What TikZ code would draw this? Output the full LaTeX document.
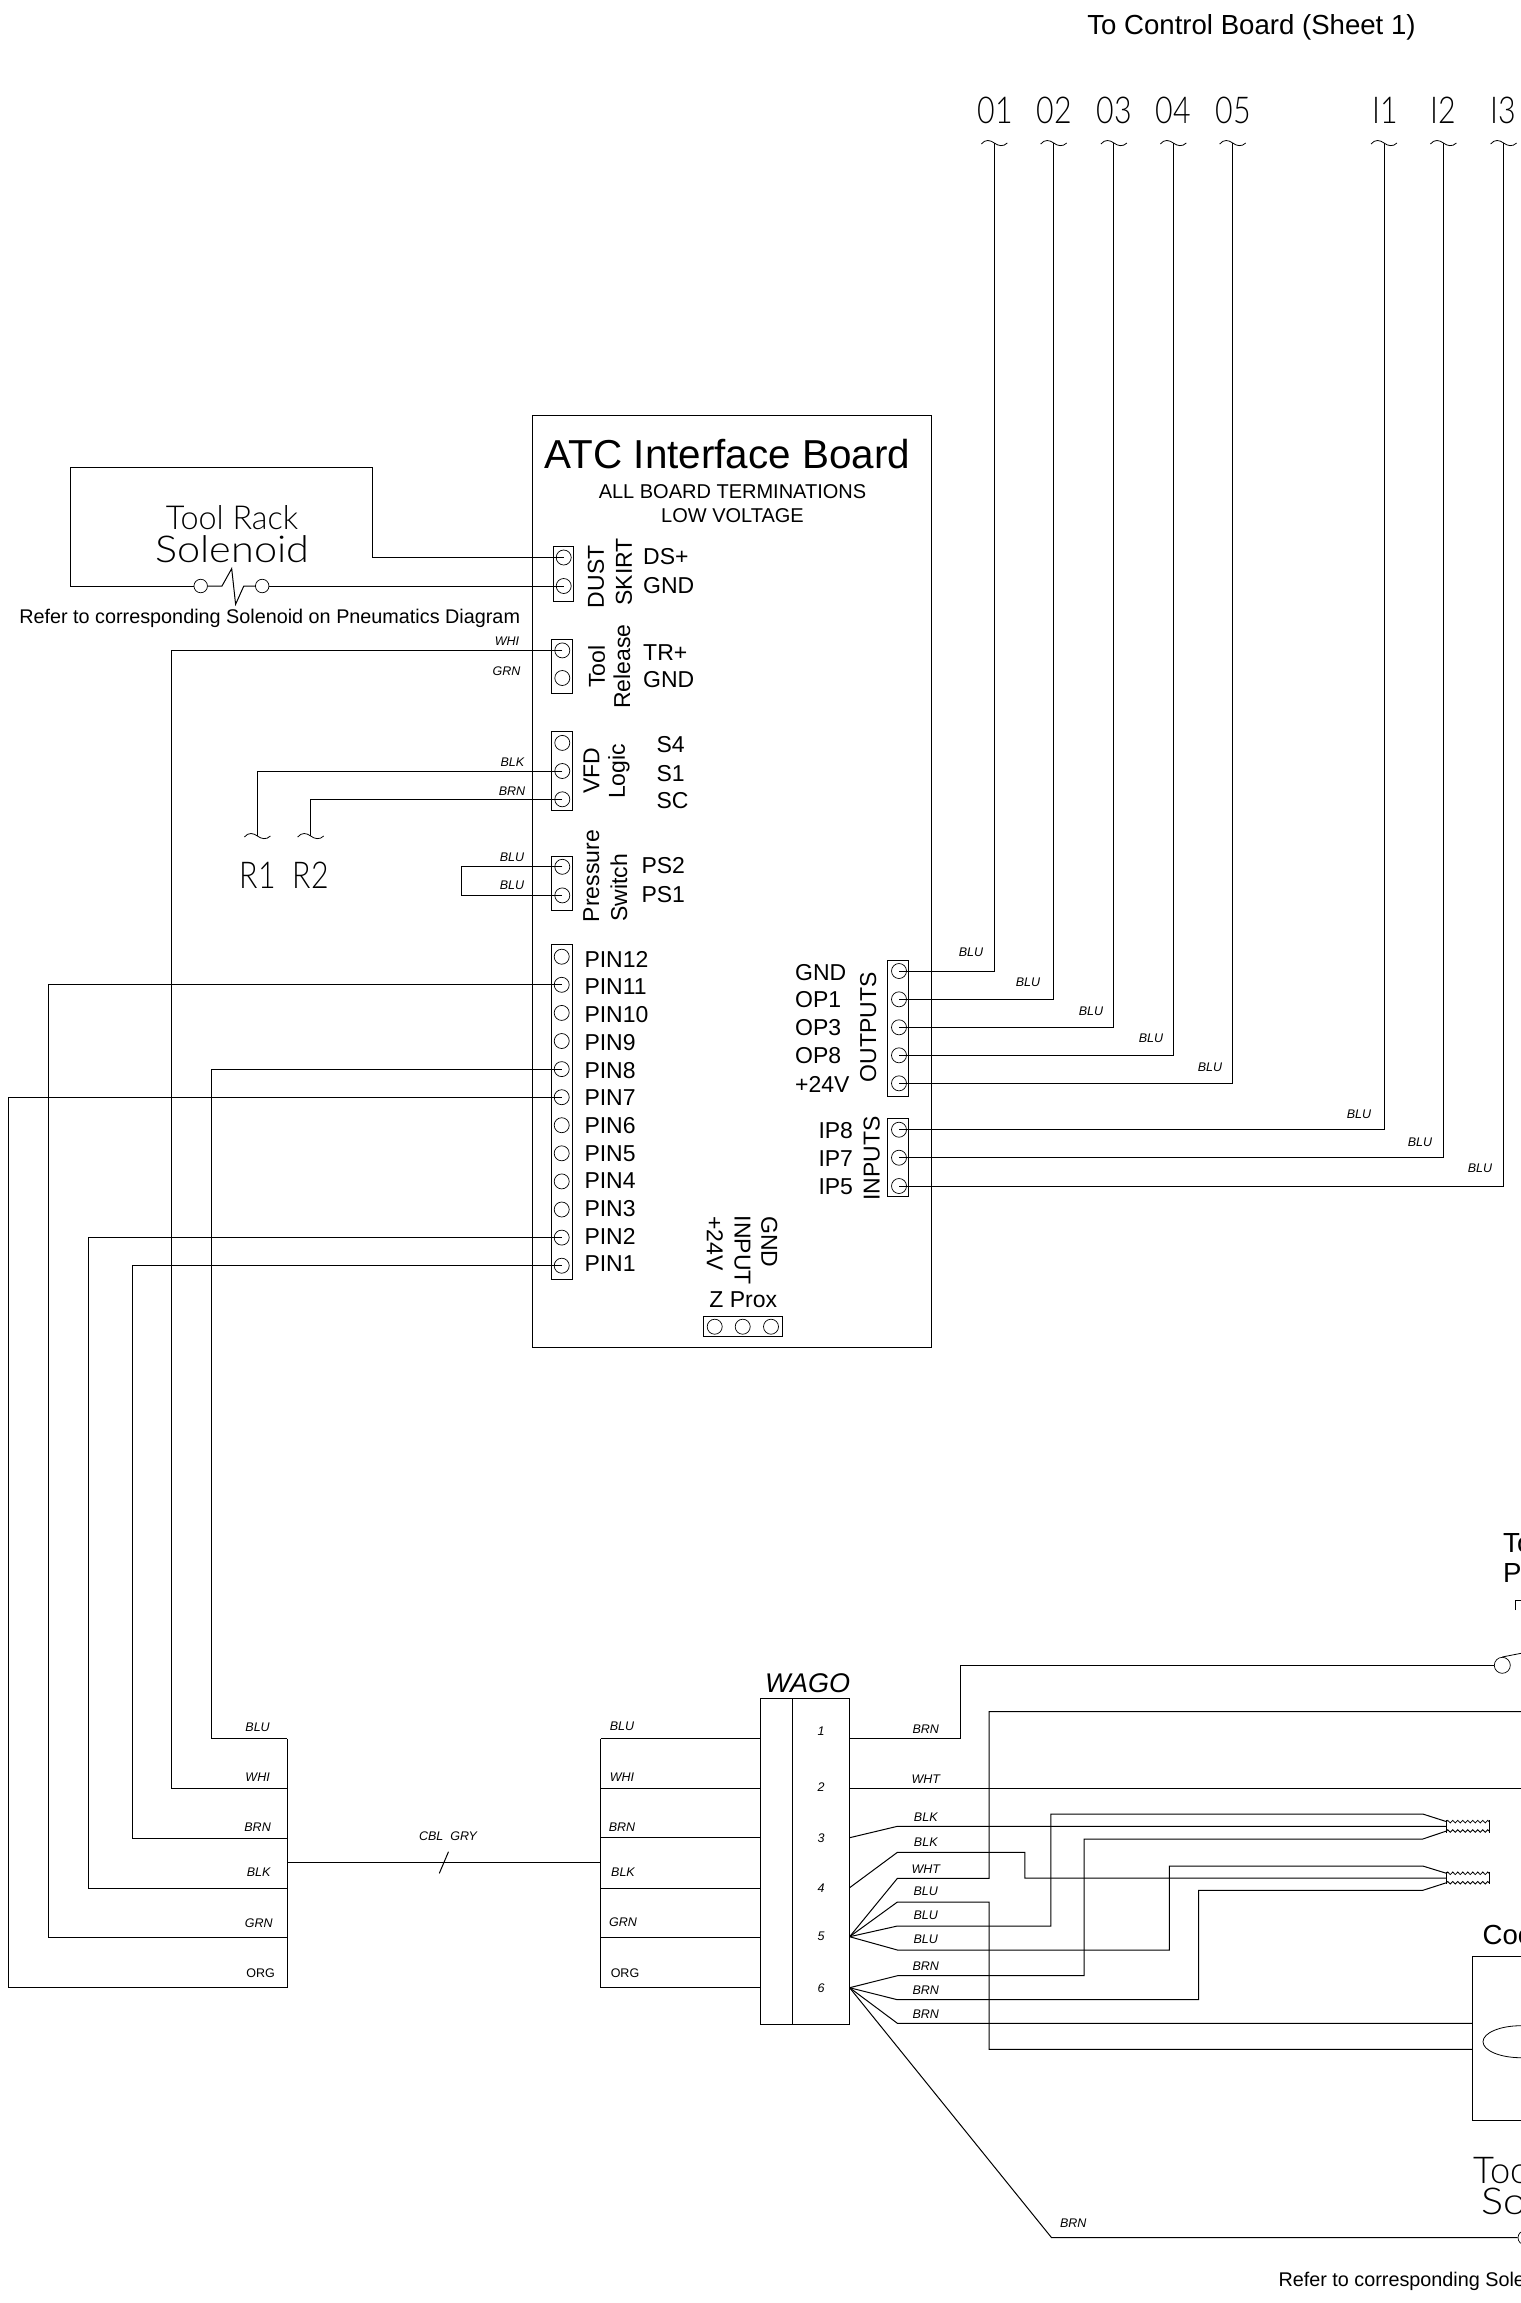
\documentclass[tikz,border=0pt]{standalone}
\usepackage{fontspec}
\usepackage{tikz}
\usetikzlibrary{decorations.pathmorphing,shapes.geometric}
\setmainfont{Liberation Sans}
\newfontfamily\cadfont[FakeStretch=0.82]{Lato Light}
\newfontfamily\cadmid[FakeStretch=0.98]{Lato Light}
\newfontfamily\cadwide[FakeStretch=1.12]{Lato Light}
\newcommand{\tsize}[1]{\fontsize{#1}{#1}\selectfont}
\tikzset{
  wire/.style={line width=1pt},
  term/.style={draw, circle, line width=0.7pt, minimum size=15pt, inner sep=0pt},
  strip/.style={line width=1pt},
  pinlbl/.style={inner sep=0pt, anchor=west, font=\tsize{23}},
  sidelbl/.style={inner sep=0pt, rotate=90, font=\tsize{23}},
  downlbl/.style={inner sep=0pt, rotate=-90, font=\tsize{23}},
  wirelbl/.style={inner sep=0pt, font=\tsize{12.5}\itshape},
  plainlbl/.style={inner sep=0pt, font=\tsize{12.5}},
  cadlbl/.style={inner sep=0pt, font=\cadfont\tsize{37}},
  crimp/.style={inner sep=0pt, minimum width=42.6pt, minimum height=9pt},
  wavy/.style={line width=0.8pt, decorate, decoration={zigzag, segment length=5pt, amplitude=1.3pt}},
  pics/wireend/.style={code={\draw[line width=0.8pt] (-13,1) .. controls (-9,-4) and (-4,-3) .. (0,0) .. controls (4,3) and (9,4) .. (13,0);}}
}
\begin{document}
\begin{tikzpicture}[x=1pt, y=-1pt]
\useasboundingbox (0,0) rectangle (1521,2303);
\clip (0,0) rectangle (1521,2303);
% board
\draw[wire] (532.5,415) rectangle (931.5,1347);
\node[inner sep=0pt, font=\tsize{40.4}] (title) at (727.5,454) {ATC Interface Board};
\node[inner sep=0pt, font=\tsize{20}] (sub1) at (732.5,492) {ALL BOARD TERMINATIONS};
\node[inner sep=0pt, font=\tsize{20}] (sub2) at (732.5,516) {LOW VOLTAGE};
\node[inner sep=0pt, font=\tsize{27.6}] (toboard) at (1251.5,27) {To Control Board (Sheet 1)};
% terminal strips
\draw[strip] (553.6,546.8) rectangle (573.4,601);
\draw[strip] (551.6,639) rectangle (572.5,693);
\draw[strip] (551.6,731.8) rectangle (572.5,810.7);
\draw[strip] (551.6,856) rectangle (572.5,910);
\draw[strip] (551.7,944) rectangle (572.3,1279);
\draw[strip] (887.7,960) rectangle (908.3,1096.3);
\draw[strip] (887.7,1118.7) rectangle (908.3,1196.7);
\draw[strip] (703.3,1316) rectangle (782.3,1336.7);
\node[term] (ds) at (563.7,557.5) {};
\node[term] (dg) at (563.7,586) {};
\node[term] (tr) at (562.3,650.4) {};
\node[term] (tg) at (562.3,678) {};
\node[term] (s4) at (562.3,742.9) {};
\node[term] (s1) at (562.3,771) {};
\node[term] (sc) at (562.3,799.3) {};
\node[term] (ps2) at (562.3,866.8) {};
\node[term] (ps1) at (562.3,895.4) {};
\node[term] (pin12) at (561.7,956.7) {};
\node[term] (pin11) at (561.7,984.8) {};
\node[term] (pin10) at (561.7,1012.9) {};
\node[term] (pin9) at (561.7,1041) {};
\node[term] (pin8) at (561.7,1069.1) {};
\node[term] (pin7) at (561.7,1097.2) {};
\node[term] (pin6) at (561.7,1125.2) {};
\node[term] (pin5) at (561.7,1153.3) {};
\node[term] (pin4) at (561.7,1181.4) {};
\node[term] (pin3) at (561.7,1209.5) {};
\node[term] (pin2) at (561.7,1237.6) {};
\node[term] (pin1) at (561.7,1265.7) {};
\node[term] (opg) at (899,971) {};
\node[term] (op1) at (899,999.3) {};
\node[term] (op3) at (899,1027.3) {};
\node[term] (op8) at (899,1055.3) {};
\node[term] (op24) at (899,1083.3) {};
\node[term] (ip8) at (899,1129.7) {};
\node[term] (ip7) at (899,1157.7) {};
\node[term] (ip5) at (899,1186) {};
\node[term] (za) at (714.7,1326.7) {};
\node[term] (zb) at (742.7,1326.7) {};
\node[term] (zc) at (771,1326.7) {};
% board texts
\node[sidelbl] (dustlbl) at (596,576.8) {DUST};
\node[sidelbl] (skirtlbl) at (624,572) {SKIRT};
\node[sidelbl] (toollbl) at (596.7,666.5) {Tool};
\node[sidelbl] (rellbl) at (622,666.5) {Release};
\node[sidelbl] (vfdlbl) at (591.4,770.7) {VFD};
\node[sidelbl] (logiclbl) at (619,771.4) {Logic};
\node[sidelbl] (preslbl) at (591.4,876) {Pressure};
\node[sidelbl] (swlbl) at (619,887.9) {Switch};
\node[sidelbl] (outlbl) at (868.3,1027.2) {OUTPUTS};
\node[sidelbl] (inlbl) at (871.7,1158.7) {INPUTS};
\node[downlbl] (zalbl) at (715,1243.3) {+24V};
\node[downlbl] (zblbl) at (742.3,1250.3) {INPUT};
\node[downlbl] (zclbl) at (769.3,1242) {GND};
\node[inner sep=0pt, font=\tsize{23}] (zprox) at (743.3,1300) {Z Prox};
\node[pinlbl] (dslbl) at (643,557) {DS+};
\node[pinlbl] (dglbl) at (643,585.4) {GND};
\node[pinlbl] (trlbl) at (643,652.5) {TR+};
\node[pinlbl] (tglbl) at (643,679.6) {GND};
\node[pinlbl] (s4lbl) at (656.3,745) {S4};
\node[pinlbl] (s1lbl) at (656.3,773.2) {S1};
\node[pinlbl] (sclbl) at (656.3,800.7) {SC};
\node[pinlbl] (ps2lbl) at (641.3,865.7) {PS2};
\node[pinlbl] (ps1lbl) at (641.3,894.3) {PS1};
\node[pinlbl] (p12lbl) at (584.3,959) {PIN12};
\node[pinlbl] (p11lbl) at (584.3,987) {PIN11};
\node[pinlbl] (p10lbl) at (584.3,1014.5) {PIN10};
\node[pinlbl] (p9lbl) at (584.3,1042.5) {PIN9};
\node[pinlbl] (p8lbl) at (584.3,1070.5) {PIN8};
\node[pinlbl] (p7lbl) at (584.3,1097.5) {PIN7};
\node[pinlbl] (p6lbl) at (584.3,1125.5) {PIN6};
\node[pinlbl] (p5lbl) at (584.3,1153.5) {PIN5};
\node[pinlbl] (p4lbl) at (584.3,1180.5) {PIN4};
\node[pinlbl] (p3lbl) at (584.3,1208.5) {PIN3};
\node[pinlbl] (p2lbl) at (584.3,1236.5) {PIN2};
\node[pinlbl] (p1lbl) at (584.3,1263.5) {PIN1};
\node[pinlbl] (opglbl) at (795,972.7) {GND};
\node[pinlbl] (op1lbl) at (795,1000) {OP1};
\node[pinlbl] (op3lbl) at (795,1028) {OP3};
\node[pinlbl] (op8lbl) at (795,1056) {OP8};
\node[pinlbl] (op24lbl) at (795,1084) {+24V};
\node[pinlbl] (ip8lbl) at (818.3,1131) {IP8};
\node[pinlbl] (ip7lbl) at (818.3,1159) {IP7};
\node[pinlbl] (ip5lbl) at (818.3,1186.7) {IP5};
% control board ends
\coordinate (o1) at (994.3,143);
\coordinate (o2) at (1053.7,143);
\coordinate (o3) at (1113.9,143);
\coordinate (o4) at (1173.3,143);
\coordinate (o5) at (1232.7,143);
\coordinate (i1) at (1384,143);
\coordinate (i2) at (1443.4,143);
\coordinate (i3) at (1503.6,143);
\pic at (o1) {wireend};
\pic at (o2) {wireend};
\pic at (o3) {wireend};
\pic at (o4) {wireend};
\pic at (o5) {wireend};
\pic at (i1) {wireend};
\pic at (i2) {wireend};
\pic at (i3) {wireend};
\node[cadlbl] (o1lbl) at (995,110.5) {01};
\node[cadlbl] (o2lbl) at (1054,110.5) {02};
\node[cadlbl] (o3lbl) at (1114,110.5) {03};
\node[cadlbl] (o4lbl) at (1173,110.5) {04};
\node[cadlbl] (o5lbl) at (1233,110.5) {05};
\node[cadlbl] (i1lbl) at (1385,110.5) {I1};
\node[cadlbl] (i2lbl) at (1443,110.5) {I2};
\node[cadlbl] (i3lbl) at (1503.5,110.5) {I3};
\draw[wire] (opg.center) -| (o1);
\draw[wire] (op1.center) -| (o2);
\draw[wire] (op3.center) -| (o3);
\draw[wire] (op8.center) -| (o4);
\draw[wire] (op24.center) -| (o5);
\draw[wire] (ip8.center) -| (i1);
\draw[wire] (ip7.center) -| (i2);
\draw[wire] (ip5.center) -| (i3);
\node[wirelbl] (w1) at (971,952.7) {BLU};
\node[wirelbl] (w2) at (1028,982) {BLU};
\node[wirelbl] (w3) at (1091,1011.5) {BLU};
\node[wirelbl] (w4) at (1151,1038) {BLU};
\node[wirelbl] (w5) at (1210,1067) {BLU};
\node[wirelbl] (w6) at (1359,1114) {BLU};
\node[wirelbl] (w7) at (1420,1142) {BLU};
\node[wirelbl] (w8) at (1480,1168.5) {BLU};
% tool rack solenoid
\node[term, minimum size=13.5pt] (swa) at (200.7,586) {};
\node[term, minimum size=13.5pt] (swb) at (262.2,586) {};
\node[cadlbl, font=\cadmid\tsize{33}] (racklbl) at (232,518) {Tool Rack};
\node[cadlbl, font=\cadwide\tsize{37}] (sollbl) at (232.5,549) {Solenoid};
\node[inner sep=0pt, font=\tsize{19.8}] (referlbl) at (269.7,618.6) {Refer to corresponding Solenoid on Pneumatics Diagram};
\draw[wire] (ds.center) -- (372.8,557.5) |- (70.8,467.9) |- (swa);
\draw[wire] (swa) -- (222,586) -- (231.7,568.6) -- (235.6,604.3) -- (243.8,586) -- (swb);
\draw[wire] (swb) -- (dg.center);
\node[wirelbl] (whilbl) at (507,641) {WHI};
\node[wirelbl] (grnlbl) at (506.5,671) {GRN};
\node[wirelbl] (blklbl) at (512.4,761.8) {BLK};
\node[wirelbl] (brnlbl) at (512,790.7) {BRN};
\node[wirelbl] (blulba) at (512,857.5) {BLU};
\node[wirelbl] (blulbb) at (512,885.7) {BLU};
% R1 R2 and the jumper
\coordinate (r1) at (257.4,836);
\coordinate (r2) at (310.7,836);
\pic at (r1) {wireend};
\pic at (r2) {wireend};
\node[cadlbl] (r1lbl) at (258,875.5) {R1};
\node[cadlbl] (r2lbl) at (311,875.5) {R2};
\draw[wire] (s1.center) -| (r1);
\draw[wire] (sc.center) -| (r2);
\draw[wire] (ps2.center) -- (461,866.8) |- (ps1.center);
% cable block
\coordinate (ca) at (287.2,1738.7);
\coordinate (cb) at (287.2,1788.3);
\coordinate (cc) at (287.2,1838.3);
\coordinate (cd) at (287.2,1888.3);
\coordinate (ce) at (287.2,1937.7);
\coordinate (cf) at (287.2,1987.7);
\coordinate (cm) at (287.2,1862.3);
\coordinate (dm) at (600.5,1862.3);
\draw[wire] (ca) -- (cf);
\draw[wire] (tr.center) -| (171.4,1788.3) -- (cb);
\draw[wire] (pin8.center) -| (211.7,1738.7) -- (ca);
\draw[wire] (pin1.center) -| (132,1838.3) -- (cc);
\draw[wire] (pin2.center) -| (88.8,1888.3) -- (cd);
\draw[wire] (pin11.center) -| (48.5,1937.7) -- (ce);
\draw[wire] (pin7.center) -| (8.2,1987.7) -- (cf);
\draw[wire] (cm) -- (dm);
\draw[wire] (448.5,1851.7) -- (439.3,1873.3);
\node[wirelbl] (cblgry) at (448,1835.7) {CBL\ \ GRY};
\node[wirelbl] (ca1) at (257.6,1727.7) {BLU};
\node[wirelbl] (ca2) at (257.6,1777.3) {WHI};
\node[wirelbl] (ca3) at (257.6,1826.7) {BRN};
\node[wirelbl] (ca4) at (258.7,1872.3) {BLK};
\node[wirelbl] (ca5) at (258.7,1922.7) {GRN};
\node[plainlbl] (ca6) at (260.7,1972.7) {ORG};
\node[wirelbl] (cb1) at (622,1726.7) {BLU};
\node[wirelbl] (cb2) at (622,1776.7) {WHI};
\node[wirelbl] (cb3) at (622,1826.7) {BRN};
\node[wirelbl] (cb4) at (623,1872.3) {BLK};
\node[wirelbl] (cb5) at (623,1921.7) {GRN};
\node[plainlbl] (cb6) at (625,1972.7) {ORG};
% wago block
\draw[wire] (760,1698.7) rectangle (849.6,2024.7);
\draw[wire] (792.8,1698.7) -- (792.8,2024.7);
\node[inner sep=0pt, font=\tsize{27}\itshape] (wago) at (807.7,1683) {WAGO};
\coordinate (wl1) at (760,1738.5);
\coordinate (wl2) at (760,1788.3);
\coordinate (wl3) at (760,1837.7);
\coordinate (wl4) at (760,1888.3);
\coordinate (wl5) at (760,1937.7);
\coordinate (wl6) at (760,1987.7);
\coordinate (wr1) at (849.6,1738.5);
\coordinate (wr2) at (849.6,1788.3);
\coordinate (wr3) at (849.6,1837.7);
\coordinate (wr4) at (849.6,1887.7);
\coordinate (wr5) at (849.6,1936.7);
\coordinate (wr6) at (849.6,1987.7);
\draw[wire] (600.5,1738.5) -- (600.5,1987.7);
\draw[wire] (600.5,1738.5) -- (wl1);
\draw[wire] (600.5,1788.3) -- (wl2);
\draw[wire] (600.5,1837.7) -- (wl3);
\draw[wire] (600.5,1888.3) -- (wl4);
\draw[wire] (600.5,1937.7) -- (wl5);
\draw[wire] (600.5,1987.7) -- (wl6);
\node[wirelbl] (wn1) at (821.2,1730.7) {1};
\node[wirelbl] (wn2) at (821.2,1786.7) {2};
\node[wirelbl] (wn3) at (821.2,1837.7) {3};
\node[wirelbl] (wn4) at (821.2,1887.7) {4};
\node[wirelbl] (wn5) at (821.2,1936.7) {5};
\node[wirelbl] (wn6) at (821.2,1987.7) {6};
\node[wirelbl] (wb1) at (925.8,1728.7) {BRN};
\node[wirelbl] (wb2) at (925.8,1778.7) {WHT};
\node[wirelbl] (wb3) at (925.8,1816.7) {BLK};
\node[wirelbl] (wb4) at (925.8,1841.7) {BLK};
\node[wirelbl] (wb5) at (925.8,1868.7) {WHT};
\node[wirelbl] (wb6) at (925.8,1891.7) {BLU};
\node[wirelbl] (wb7) at (925.8,1915.7) {BLU};
\node[wirelbl] (wb8) at (925.8,1939.3) {BLU};
\node[wirelbl] (wb9) at (925.8,1965.7) {BRN};
\node[wirelbl] (wb10) at (925.8,1989.7) {BRN};
\node[wirelbl] (wb11) at (925.8,2013.7) {BRN};
\node[wirelbl] (wb12) at (1073.3,2222.7) {BRN};
% crimp connectors
\node[crimp] (crimpa) at (1468,1826.3) {};
\node[crimp] (crimpb) at (1468,1878) {};
\draw[wavy] (crimpa.north west) -- (crimpa.north east);
\draw[wavy] (crimpa.south west) -- (crimpa.south east);
\draw[wavy] (crimpb.north west) -- (crimpb.north east);
\draw[wavy] (crimpb.south west) -- (crimpb.south east);
\draw[wire] (1446.7,1820) -- (1446.7,1832.7);
\draw[wire] (1489.3,1820) -- (1489.3,1832.7);
\draw[wire] (1446.7,1871.7) -- (1446.7,1884.3);
\draw[wire] (1489.3,1871.7) -- (1489.3,1884.3);
% coolant and tool solenoid parts at the sheet edge
\draw[wire] (1472,1956.3) rectangle (1560,2120);
\node[draw, ellipse, line width=0.8pt, minimum width=76pt, minimum height=32pt, inner sep=0pt] (coolmotor) at (1521,2041.7) {};
\coordinate (cooltop) at (1472,2023.3);
\coordinate (coolbot) at (1472,2049.3);
\node[inner sep=0pt, anchor=west, font=\tsize{27.6}] (coollbl) at (1482.5,1935) {Coo};
\node[term, minimum size=14pt] (solc) at (1525,2237.7) {};
\node[cadlbl, anchor=west, font=\cadmid\tsize{37}] (tool2lbl) at (1473.3,2170) {Tool};
\node[cadlbl, anchor=west, font=\cadwide\tsize{37}] (so2lbl) at (1481.7,2201.5) {So};
\node[inner sep=0pt, anchor=west, font=\tsize{19.8}] (refer2lbl) at (1278.3,2281.7) {Refer to corresponding Sole};
\node[inner sep=0pt, anchor=west, font=\tsize{27.6}] (proxa) at (1503,1543) {To};
\node[inner sep=0pt, anchor=west, font=\tsize{27.6}] (proxb) at (1503,1572.7) {Pr};
\draw[line width=0.8pt] (1515.7,1610) -- (1515.7,1600.7) -- (1521,1600.7);
\node[term, minimum size=16pt] (swc) at (1502.3,1665.3) {};
\draw[line width=0.8pt] (swc.north) -- (1521,1653.3);
% wago outgoing wires
\draw[wire] (wr1) -- (960,1738.5) |- (swc);
\draw[wire] (wr2) -- (1521,1788.3);
\draw[wire] (wr3) -- (897.4,1826.3) -- (crimpa.west);
\draw[wire] (wr4) -- (897.4,1852.3) -- (1024.9,1852.3) |- (crimpb.west);
\draw[wire] (wr5) -- (897.4,1878.3) -- (989,1878.3) |- (1521,1711.7);
\draw[wire] (wr5) -- (897.4,1902) -- (989,1902) |- (coolbot);
\draw[wire] (wr5) -- (897.4,1926) -- (1050.8,1926) |- (1422.8,1814) -- (crimpa.north west);
\draw[wire] (wr5) -- (897.4,1950) -- (1169.3,1950) |- (1422.8,1866) -- (crimpb.north west);
\draw[wire] (wr6) -- (897.4,1975.7) -- (1084,1975.7) |- (1422.8,1839) -- (crimpa.south west);
\draw[wire] (wr6) -- (897.4,1999.7) -- (1198.7,1999.7) |- (1422.8,1890.3) -- (crimpb.south west);
\draw[wire] (wr6) -- (897.4,2023.3) -- (cooltop);
\draw[wire] (wr6) -- (1051.6,2237.7) -- (solc);
\end{tikzpicture}
\end{document}
